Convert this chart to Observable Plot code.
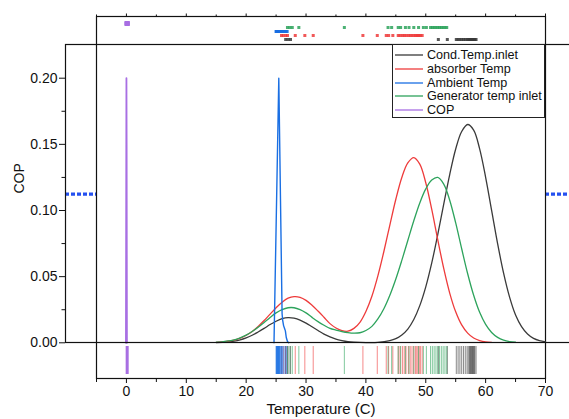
<!DOCTYPE html>
<html><head><meta charset="utf-8">
<script src="https://cdn.jsdelivr.net/npm/d3@7"></script>
<script src="https://cdn.jsdelivr.net/npm/@observablehq/plot@0.6"></script>
<style>
body{margin:0;background:#fff;}
#chart{position:relative;width:569px;height:419px;overflow:hidden;background:#fff;font-family:'Liberation Sans',Arial,sans-serif;}
.lg-row span{font-family:'Liberation Sans',Arial,sans-serif;font-size:12.6px;color:#111;margin-left:2px;white-space:nowrap;}
</style></head><body><div id="chart"></div>
<script>
// ---- data ----
const seriesNames = ["Cond.Temp.inlet","absorber Temp","Ambient Temp","Generator temp inlet","COP"];
const seriesColors = ["#3a3a3a","#ee3b3b","#1a6fe3","#2da35c","#a86fe3"];
const xTicks = [0,10,20,30,40,50,60,70];
const xMinorTicks = [-5,5,15,25,35,45,55,65];
const yTicks = [0,0.05,0.1,0.15,0.2];
const yMinorTicks = [0.025,0.075,0.125,0.175];
const copMeanLine = 0.1124;

// raw observations (top strip + rug)
const condData = [26.6,27.0,27.4,52.1,53.6,55.1,55.4,55.7,56.0,56.3,56.6,56.9,57.1,57.3,57.4,57.5,57.6,57.7,57.8,57.9,58.0,58.1,58.2,58.4];
const absorberData = [25.9,26.2,26.6,26.9,28.2,29.8,31.2,39.5,41.9,43.4,43.8,44.5,45.4,45.7,46.1,46.4,46.7,47.1,47.4,47.7,48.0,48.3,48.5,48.7,48.9,49.1,49.4];
const ambientData = [25.0,25.05,25.1,25.15,25.2,25.25,25.3,25.35,25.4,25.45,25.5,25.55,25.6,25.7,25.8,25.9,26.0,26.1,26.3,26.5,26.7,26.85];
const generatorData = [26.9,27.3,27.7,28.8,36.4,43.7,44.3,45.4,45.8,46.6,47.2,48.0,48.8,49.6,50.1,50.8,51.1,51.4,51.7,52.0,52.3,52.6,52.9,53.2,53.5];
const copData = [0.04,0.06,0.08,0.09,0.10,0.11,0.11,0.12,0.12,0.13,0.14,0.15,0.16];

// distribution curves [temperature, density]
const condCurve = [[15,0.0002],[16,0.0004],[17,0.0007],[18,0.0013],[19,0.0023],[20,0.0038],[21,0.0057],[22,0.0082],[23,0.0109],[24,0.0138],[25,0.0163],[26,0.0182],[27,0.0190],[28,0.0186],[29,0.0172],[30,0.0149],[31,0.0121],[32,0.0093],[33,0.0066],[34,0.0045],[35,0.0028],[36,0.0017],[37,0.0009],[38,0.0005],[40,0.0002],[42,0.0003],[44,0.0016],[45,0.0031],[46,0.0059],[47,0.0104],[48,0.0176],[49,0.0281],[50,0.0423],[51,0.0604],[52,0.0817],[53,0.1048],[54,0.1272],[55,0.1465],[56,0.1597],[57,0.1650],[58,0.1607],[59,0.1466],[60,0.1251],[61,0.1001],[62,0.0750],[63,0.0526],[64,0.0345],[65,0.0210],[66,0.0122],[67,0.0066],[68,0.0033],[69,0.0016],[70,0.0007]];
const absorberCurve = [[15,0.0003],[16,0.0006],[17,0.0012],[18,0.0021],[19,0.0035],[20,0.0057],[21,0.0086],[22,0.0124],[23,0.0168],[24,0.0217],[25,0.0265],[26,0.0307],[27,0.0337],[28,0.0349],[29,0.0344],[30,0.0321],[31,0.0284],[32,0.0240],[33,0.0193],[34,0.0145],[35,0.0112],[36,0.0092],[37,0.0088],[38,0.0109],[39,0.0155],[40,0.0237],[41,0.0352],[42,0.0506],[43,0.0690],[44,0.0890],[45,0.1085],[46,0.1250],[47,0.1360],[48,0.1400],[49,0.1350],[50,0.1210],[51,0.1008],[52,0.0780],[53,0.0562],[54,0.0376],[55,0.0234],[56,0.0135],[57,0.0073],[58,0.0036],[59,0.0017],[60,0.0007],[61,0.0003]];
const ambientCurve = [[24.65,0],[25.45,0.2],[26.0,0.022],[26.1,0.017],[26.25,0.013],[26.4,0.011],[26.55,0.009],[26.7,0.004],[26.9,0.001],[27.1,0]];
const generatorCurve = [[15,0.0004],[16,0.0007],[17,0.0014],[18,0.0023],[19,0.0038],[20,0.0058],[21,0.0085],[22,0.0118],[23,0.0154],[24,0.0192],[25,0.0226],[26,0.0251],[27,0.0265],[28,0.0265],[29,0.0251],[30,0.0226],[31,0.0192],[32,0.0160],[33,0.0133],[34,0.0109],[35,0.0096],[36,0.0085],[37,0.0077],[38,0.0073],[39,0.0076],[40,0.0093],[41,0.0124],[42,0.0180],[43,0.0257],[44,0.0359],[45,0.0482],[46,0.0623],[47,0.0773],[48,0.0922],[49,0.1057],[50,0.1163],[51,0.1230],[52,0.1250],[53,0.1200],[54,0.1078],[55,0.0906],[56,0.0711],[57,0.0522],[58,0.0359],[59,0.0230],[60,0.0139],[61,0.0078],[62,0.0041],[63,0.0020],[64,0.0009],[65,0.0004]];
const copCurve = [[-0.08,0],[0,0.2],[0.03,0.15],[0.08,0]];

// ---- tables built from the arrays ----
const rawSets = [condData, absorberData, ambientData, generatorData, copData];
const curveSets = [condCurve, absorberCurve, ambientCurve, generatorCurve, copCurve];
const obs = rawSets.flatMap((arr, i) => arr.map(v => ({series: seriesNames[i], value: v})));
const curves = curveSets.flatMap((arr, i) => arr.map(([t, v]) => ({series: seriesNames[i], t, v})));
const smooth = new Set(["Cond.Temp.inlet","absorber Temp","Generator temp inlet"]);

// ---- layout ----
const W = 569, H = 419;
const font = "'Liberation Sans', Arial, sans-serif";
const xScale = {domain: [-5, 70], range: [96, 545]};
const yScale = {domain: [0, 0.2], range: [342.3, 77.7]};
const color = {domain: seriesNames, range: seriesColors};
const root = document.getElementById("chart");
function layer(opts) {
  const el = Plot.plot({
    width: W, height: H,
    style: `position:absolute;left:0;top:0;background:none;max-width:none;font-family:${font};font-size:14px;color:#111;`,
    ...opts
  });
  root.appendChild(el);
  return el;
}

// A: dotted COP mean line (under the marginal box)
layer({
  width: 600, marginLeft: 65, marginRight: 0, marginTop: 44, marginBottom: 77,
  x: {...xScale, axis: null}, y: {...yScale, axis: null},
  marks: [Plot.ruleY([copMeanLine], {stroke: "#2450f0", strokeWidth: 3.3, strokeDasharray: "4,2"})]
});

// B: marginal box with temperature axes
layer({
  marginLeft: 96, marginRight: 24, marginTop: 16, marginBottom: 41,
  x: xScale,
  marks: [
    Plot.frame({fill: "white", stroke: "#111", strokeWidth: 1.2}),
    Plot.axisX(xTicks, {anchor: "bottom", tickSize: 5, tickPadding: 3, fontSize: 14, tickFormat: d => String(d), label: null}),
    Plot.axisX(xMinorTicks, {anchor: "bottom", tickSize: 4, tickFormat: () => "", label: null}),
    Plot.axisX(xTicks, {anchor: "top", tickSize: 3.5, tickFormat: () => "", label: null}),
    Plot.axisX(xMinorTicks, {anchor: "top", tickSize: 2.5, tickFormat: () => "", label: null}),
    Plot.text(["Temperature (C)"], {frameAnchor: "bottom", dy: 35, fontSize: 15, fill: "#111"})
  ]
});

// C: top strip of observations
layer({
  marginLeft: 96, marginRight: 24, marginTop: 16, marginBottom: 375,
  x: {...xScale, axis: null},
  y: {type: "point", domain: seriesNames.slice().reverse(), range: [19.5, 42], axis: null},
  color,
  marks: [
    Plot.dot(obs, {filter: d => d.series !== "COP", x: "value", y: "series", fill: "series", symbol: "square", r: 1.7, fillOpacity: 0.85}),
    Plot.dot(obs, {filter: d => d.series === "COP", x: "value", y: "series", fill: "series", symbol: "square", r: 2.4, fillOpacity: 0.85})
  ]
});

// D: rug
layer({
  marginLeft: 96, marginRight: 24, marginTop: 346, marginBottom: 45,
  x: {...xScale, axis: null},
  color,
  marks: [
    Plot.tickX(obs, {filter: d => d.series !== "COP", x: "value", stroke: "series", strokeOpacity: 0.6, strokeWidth: 1}),
    Plot.tickX(obs, {filter: d => d.series === "COP", x: "value", stroke: "series", strokeOpacity: 0.6, strokeWidth: 2})
  ]
});

// E: main layer with curves and COP axis
layer({
  width: 600, marginLeft: 65, marginRight: 0, marginTop: 44, marginBottom: 77,
  x: {...xScale, axis: null}, y: yScale, color,
  marks: [
    Plot.line(curves, {filter: d => smooth.has(d.series), x: "t", y: "v", z: "series", stroke: "series", strokeWidth: 1.3, curve: "catmull-rom"}),
    Plot.line(curves, {filter: d => d.series === "Ambient Temp", x: "t", y: "v", stroke: "series", strokeWidth: 1.4}),
    Plot.line(curves, {filter: d => d.series === "COP", x: "t", y: "v", stroke: "series", strokeWidth: 1.8}),
    Plot.frame({stroke: "#111", strokeWidth: 1.2}),
    Plot.axisY(yTicks, {anchor: "left", tickSize: 6, tickPadding: 2, fontSize: 14, tickFormat: d3.format(".2f"), label: null}),
    Plot.axisY(yMinorTicks, {anchor: "left", tickSize: 3.5, tickFormat: () => "", label: null}),
    Plot.text(["COP"], {frameAnchor: "left", dx: -46, rotate: -90, fontSize: 14, fill: "#111"})
  ]
});

// legend
const legend = document.createElement("div");
legend.style.cssText = "position:absolute;left:392px;top:44px;width:153px;height:74px;box-sizing:border-box;border:1px solid #222;background:#fff;";
seriesNames.forEach((name, i) => {
  const row = document.createElement("div");
  row.className = "lg-row";
  row.style.cssText = `position:absolute;left:0;top:${3 + i * 13.8}px;height:14px;display:flex;align-items:center;`;
  row.innerHTML = `<svg width="32" height="14" style="display:block"><line x1="2" x2="30" y1="7" y2="7" stroke="${seriesColors[i]}" stroke-width="1.3"/></svg><span>${name}</span>`;
  legend.appendChild(row);
});
root.appendChild(legend);
</script></body></html>
